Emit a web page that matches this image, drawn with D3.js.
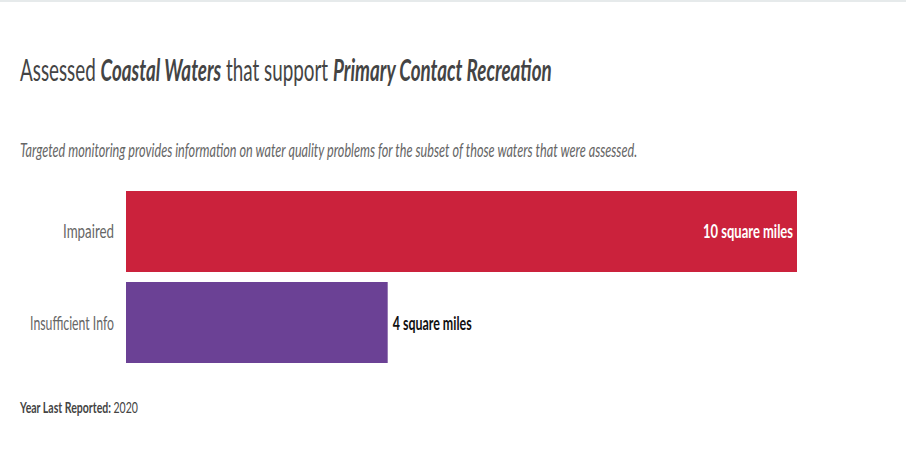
<!DOCTYPE html>
<html>
<head>
<meta charset="utf-8">
<script src="https://cdn.jsdelivr.net/npm/d3@7"></script>
<style>
  body { margin: 0; background: #fff; }
  svg text { font-family: Lato, "Open Sans", sans-serif; }
</style>
</head>
<body>
<div id="chart"></div>
<script>
// data
var categories = ["Impaired", "Insufficient Info"];
var values = [10, 3.9];
var colors = ["#cb223c", "#6b4195"];
var unit = "square miles";
var yearReported = "2020";

(function () {
  "use strict";

  var W = 906, H = 463;
  var svg = d3.select("#chart").append("svg")
    .attr("width", W).attr("height", H);

  // squeeze a text horizontally to a width, keeping it anchored at (ax, ay)
  function fit(sel, width, ax, ay, anchor) {
    sel.each(function () {
      var t = d3.select(this);
      var w = this.getComputedTextLength();
      var s = width / w;
      t.attr("x", 0).attr("y", 0).attr("text-anchor", anchor || "start")
        .attr("transform", "translate(" + ax + "," + ay + ") scale(" + s + ",1)");
    });
  }

  // thin rule along the top
  svg.append("rect").attr("x", 0).attr("y", 0)
    .attr("width", W).attr("height", 2).attr("fill", "#e6eaeb");

  // title
  var title = svg.append("text")
    .attr("font-size", 30).attr("fill", "#444");
  title.append("tspan").text("Assessed ");
  title.append("tspan").attr("font-weight", "bold").attr("font-style", "italic").text("Coastal Waters");
  title.append("tspan").text(" that support ");
  title.append("tspan").attr("font-weight", "bold").attr("font-style", "italic").text("Primary Contact Recreation");
  fit(title, 532, 20, 81);

  var sub = svg.append("text")
    .attr("font-size", 19).attr("font-style", "italic").attr("fill", "#666")
    .text("Targeted monitoring provides information on water quality problems for the subset of those waters that were assessed.");
  fit(sub, 618, 20, 157);

  var x = d3.scaleLinear().domain([0, 10]).range([126, 797]);
  var y = d3.scaleBand().domain(categories).range([191, 363]).paddingInner(0.11);

  var rows = svg.selectAll("g.row")
    .data(categories.map(function (c, i) { return { cat: c, val: values[i], col: colors[i] }; }))
    .enter().append("g").attr("class", "row");

  rows.append("rect")
    .attr("x", x(0))
    .attr("y", function (d) { return y(d.cat); })
    .attr("width", function (d) { return x(d.val) - x(0); })
    .attr("height", y.bandwidth())
    .attr("fill", function (d) { return d.col; });

  var labelWidths = { "Impaired": 51, "Insufficient Info": 84 };
  rows.append("text")
    .attr("font-size", 19).attr("fill", "#666")
    .text(function (d) { return d.cat; })
    .each(function (d) {
      fit(d3.select(this), labelWidths[d.cat], 114, y(d.cat) + y.bandwidth() / 2 + 7, "end");
    });

  // value labels: inside for long bars, outside for short ones
  rows.append("text")
    .attr("font-size", 19).attr("font-weight", "bold")
    .attr("fill", function (d) { return d.val > 6 ? "#fff" : "#111"; })
    .text(function (d) { return Math.round(d.val) + " " + unit; })
    .each(function (d) {
      var inside = d.val > 6;
      fit(d3.select(this), inside ? 90 : 79,
        inside ? x(d.val) - 4 : x(d.val) + 5,
        y(d.cat) + y.bandwidth() / 2 + 7,
        inside ? "end" : "start");
    });

  var foot = svg.append("text")
    .attr("font-size", 15).attr("fill", "#444");
  foot.append("tspan").attr("font-weight", "bold").text("Year Last Reported: ");
  foot.append("tspan").text(yearReported);
  fit(foot, 118, 20, 413);
})();
</script>
</body>
</html>
